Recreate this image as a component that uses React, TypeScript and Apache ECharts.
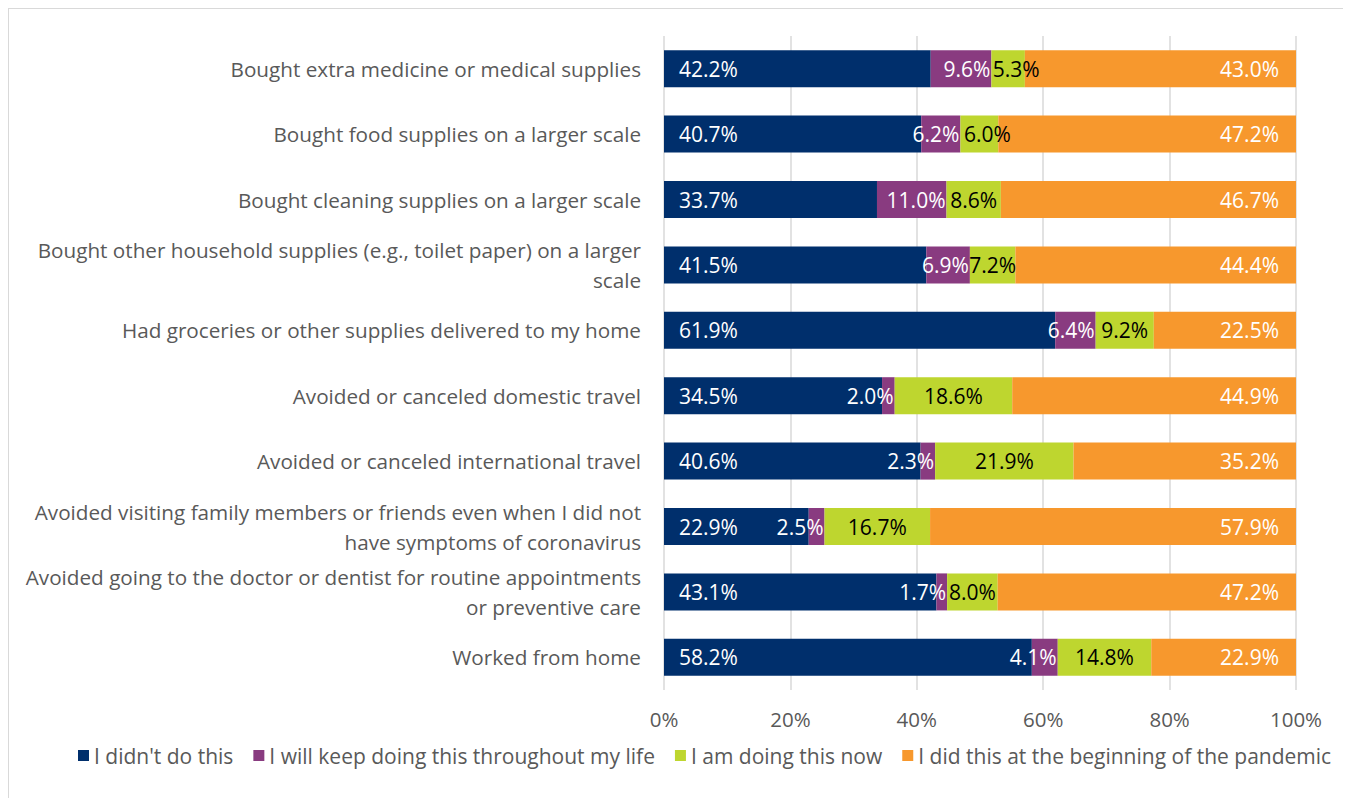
import React, { useEffect, useRef } from "react";
import * as echarts from "echarts";

const categories = [
  "Bought extra medicine or medical supplies",
  "Bought food supplies on a larger scale",
  "Bought cleaning supplies on a larger scale",
  "Bought other household supplies (e.g., toilet paper) on a larger\nscale",
  "Had groceries or other supplies delivered to my home",
  "Avoided or canceled domestic travel",
  "Avoided or canceled international travel",
  "Avoided visiting family members or friends even when I did not\nhave symptoms of coronavirus",
  "Avoided going to the doctor or dentist for routine appointments\nor preventive care",
  "Worked from home",
];

const seriesNames = [
  "I didn't do this",
  "I will keep doing this throughout my life",
  "I am doing this now",
  "I did this at the beginning of the pandemic",
];

const didntDo = [42.2, 40.7, 33.7, 41.5, 61.9, 34.5, 40.6, 22.9, 43.1, 58.2];
const keepDoing = [9.6, 6.2, 11.0, 6.9, 6.4, 2.0, 2.3, 2.5, 1.7, 4.1];
const doingNow = [5.3, 6.0, 8.6, 7.2, 9.2, 18.6, 21.9, 16.7, 8.0, 14.8];
const didAtStart = [43.0, 47.2, 46.7, 44.4, 22.5, 44.9, 35.2, 57.9, 47.2, 22.9];

const xTicks = [0, 20, 40, 60, 80, 100];

const colors = ["#002f6c", "#893b80", "#bed62f", "#f7982d"];
const FONT = "Open Sans";

export default function App() {
  const ref = useRef<HTMLDivElement>(null);
  useEffect(() => {
    document.body.style.overflow = "hidden";
    const chart = echarts.init(ref.current!, null, { renderer: "svg" });
    const fmt = (p: any) => Number(p.value).toFixed(1) + "%";
    const baseLabel = { show: true, fontFamily: FONT, fontSize: 21, formatter: fmt };
    // narrow green segments: nudge their labels right so they clear the purple label
    const greenData = doingNow.map((v) =>
      v < 7 ? { value: v, label: { offset: [8, 0] } } : v
    );
    chart.setOption({
      animation: false,
      color: colors,
      textStyle: { fontFamily: FONT },
      grid: { left: 655, right: 55, top: 27, bottom: 108, containLabel: false },
      legend: {
        left: 64,
        top: 731,
        itemWidth: 11,
        itemHeight: 11,
        itemGap: 20,
        icon: "rect",
        textStyle: { color: "#595959", fontSize: 21, fontFamily: FONT },
        data: seriesNames,
      },
      xAxis: {
        type: "value",
        min: xTicks[0],
        max: xTicks[xTicks.length - 1],
        interval: 20,
        axisLine: { show: false },
        axisTick: { show: false },
        splitLine: { show: true, lineStyle: { color: "#d9d9d9", width: 1.5 } },
        axisLabel: {
          color: "#595959",
          fontSize: 20.5,
          fontFamily: FONT,
          margin: 18,
          formatter: (v: number) => v + "%",
        },
      },
      yAxis: {
        type: "category",
        inverse: true,
        data: categories,
        axisLine: { show: false },
        axisTick: { show: false },
        axisLabel: {
          color: "#595959",
          fontSize: 20.7,
          fontFamily: FONT,
          margin: 23,
          lineHeight: 30,
          align: "right",
        },
      },
      series: [
        {
          name: seriesNames[0],
          type: "bar",
          stack: "total",
          barWidth: 37,
          data: didntDo,
          label: { ...baseLabel, position: "insideLeft", distance: 15, color: "#ffffff" },
        },
        {
          name: seriesNames[1],
          type: "bar",
          stack: "total",
          barWidth: 37,
          data: keepDoing,
          label: { ...baseLabel, position: "insideRight", distance: 1, color: "#ffffff" },
        },
        {
          name: seriesNames[2],
          type: "bar",
          stack: "total",
          barWidth: 37,
          data: greenData,
          label: { ...baseLabel, position: "inside", color: "#000000" },
        },
        {
          name: seriesNames[3],
          type: "bar",
          stack: "total",
          barWidth: 37,
          data: didAtStart,
          label: { ...baseLabel, position: "insideRight", distance: 17, color: "#ffffff" },
        },
      ],
    });
    return () => chart.dispose();
  }, []);
  return (
    <div
      style={{
        width: 1342,
        height: 789,
        borderTop: "1px solid #d9d9d9",
        borderLeft: "1px solid #d9d9d9",
        background: "#ffffff",
      }}
    >
      <div ref={ref} style={{ width: 1342, height: 789 }} />
    </div>
  );
}
